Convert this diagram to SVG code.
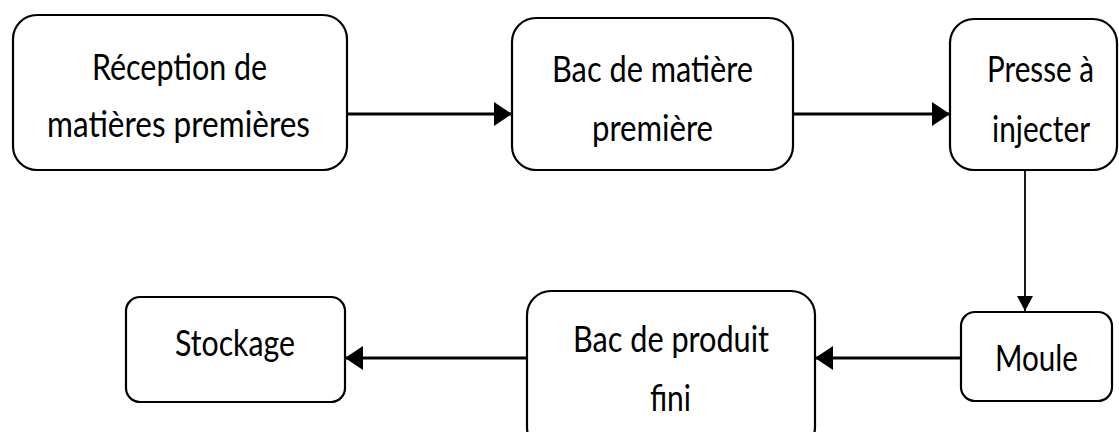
<svg xmlns="http://www.w3.org/2000/svg" width="1119" height="432" viewBox="0 0 1119 432">
  <style>
    .box { fill: #ffffff; stroke: #000000; stroke-width: 2.2; }
    .lbl { font-family: Lato, "Open Sans", "Liberation Sans", sans-serif; font-size: 36px; fill: #000000; }
    .flow { stroke: #000000; stroke-width: 3.2; fill: none; }
    .thin { stroke: #000000; stroke-width: 1.8; fill: none; }
  </style>
  <defs>
    <marker id="head" viewBox="0 0 18 24" refX="18" refY="12" markerWidth="18" markerHeight="24" markerUnits="userSpaceOnUse" orient="auto">
      <path d="M0,0 L18,12 L0,24 Z" fill="#000000"/>
    </marker>
    <marker id="headSmall" viewBox="0 0 16 16" refX="15" refY="8" markerWidth="16" markerHeight="16" markerUnits="userSpaceOnUse" orient="auto">
      <path d="M0,0 L15,8 L0,16 Z" fill="#000000"/>
    </marker>
  </defs>
  <rect width="1119" height="432" fill="#ffffff"/>

  <g id="connectors">
    <line class="flow" x1="347" y1="114" x2="512" y2="114" marker-end="url(#head)"/>
    <line class="flow" x1="793" y1="114" x2="950" y2="114" marker-end="url(#head)"/>
    <line class="thin" x1="1025" y1="170" x2="1025" y2="311" marker-end="url(#headSmall)"/>
    <line class="flow" x1="961" y1="358" x2="815" y2="358" marker-end="url(#head)"/>
    <line class="flow" x1="527" y1="358" x2="345" y2="358" marker-end="url(#head)"/>
  </g>

  <g id="reception">
    <rect class="box" x="13" y="15" width="334" height="155" rx="24"/>
    <text class="lbl" x="92" y="80" textLength="175" lengthAdjust="spacingAndGlyphs">Réception de</text>
    <text class="lbl" x="47" y="137" textLength="263" lengthAdjust="spacingAndGlyphs">matières premières</text>
  </g>

  <g id="bac-matiere">
    <rect class="box" x="512" y="18" width="281" height="152" rx="24"/>
    <text class="lbl" x="552" y="82" textLength="201" lengthAdjust="spacingAndGlyphs">Bac de matière</text>
    <text class="lbl" x="592" y="141" textLength="121" lengthAdjust="spacingAndGlyphs">première</text>
  </g>

  <g id="presse">
    <rect class="box" x="950" y="19" width="167" height="151" rx="24"/>
    <text class="lbl" x="987" y="82" textLength="107" lengthAdjust="spacingAndGlyphs">Presse à</text>
    <text class="lbl" x="992" y="142" textLength="98" lengthAdjust="spacingAndGlyphs">injecter</text>
  </g>

  <g id="moule">
    <rect class="box" x="961" y="312" width="151" height="89" rx="14"/>
    <text class="lbl" x="995" y="371" textLength="83" lengthAdjust="spacingAndGlyphs">Moule</text>
  </g>

  <g id="bac-produit">
    <rect class="box" x="527" y="291" width="288" height="160" rx="24"/>
    <text class="lbl" x="573" y="352" textLength="196" lengthAdjust="spacingAndGlyphs">Bac de produit</text>
    <text class="lbl" x="650" y="411" textLength="41" lengthAdjust="spacingAndGlyphs">fini</text>
  </g>

  <g id="stockage">
    <rect class="box" x="126" y="297" width="219" height="105" rx="14"/>
    <text class="lbl" x="175" y="356" textLength="120" lengthAdjust="spacingAndGlyphs">Stockage</text>
  </g>
</svg>
